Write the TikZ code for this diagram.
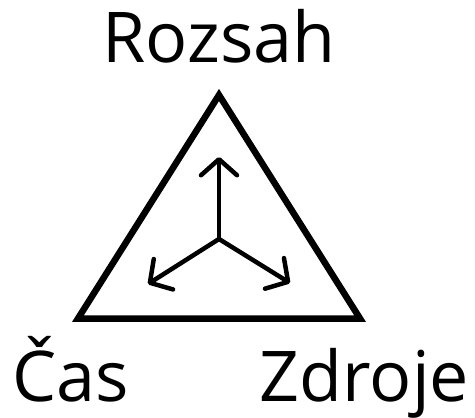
\documentclass[tikz,border=0pt]{standalone}
\usepackage{fontspec}
\setmainfont{Open Sans}
\usetikzlibrary{arrows.meta}
\begin{document}
\begin{tikzpicture}[x=1pt,y=-1pt,
  label/.style={inner sep=0pt,anchor=base,font=\fontsize{70}{70}\selectfont},
  tri/.style={line width=6.5pt,line join=miter},
  vec/.style={line width=4.5pt,line cap=round,-{Straight Barb[length=16pt,width=36pt,round,line width=4.5pt]}}]
\useasboundingbox (0,0) rectangle (475,418);
\coordinate (A) at (219,95);
\coordinate (B) at (78,318.5);
\coordinate (C) at (360,318.5);
\coordinate (O) at (219,239);
\coordinate (U) at (219,157);
\coordinate (L) at (148,284);
\coordinate (R) at (290,283);
\draw[tri] (A) -- (B) -- (C) -- cycle;
\draw[vec] (O) -- (U);
\draw[vec] (O) -- (L);
\draw[vec] (O) -- (R);
\node[label] (rozsah) at (219,62) {Rozsah};
\node[label] (cas) at (70.5,401) {Čas};
\node[label] (zdroje) at (364.5,401) {Zdroje};
\end{tikzpicture}
\end{document}
